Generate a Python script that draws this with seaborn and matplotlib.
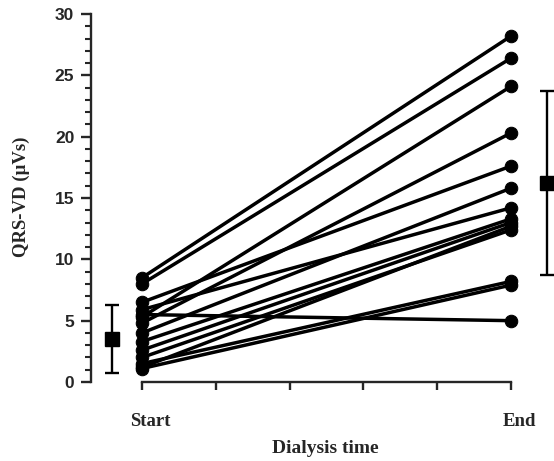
import numpy as np
import pandas as pd
import matplotlib
matplotlib.use("Agg")
import matplotlib.pyplot as plt
from matplotlib.ticker import MultipleLocator
from matplotlib.transforms import ScaledTranslation
import seaborn as sns

# ---- data ----
time_labels = ["Start", "End"]
start_vals = [8.5, 8.0, 5.3, 4.8, 6.5, 4.0, 5.9, 5.5, 3.3, 2.6, 1.2, 2.0, 1.5, 1.1]
end_vals = [28.2, 26.4, 24.1, 20.3, 17.6, 15.8, 14.2, 5.0, 13.3, 13.0, 12.7, 12.4, 8.2, 7.9]
mean_vals = [3.5, 16.2]
sd_vals = [2.8, 7.5]
mean_offsets = [-0.08, 0.097]

n = len(start_vals)
df = pd.DataFrame({
    "patient": list(range(n)) * 2,
    "t": [0] * n + [1] * n,
    "value": start_vals + end_vals,
})

sns.set_style("ticks")
W, H, DPI = 554, 461, 100
fig = plt.figure(figsize=(W / DPI, H / DPI), dpi=DPI)
ax_left, ax_right, ax_top, ax_bottom = 91, 554, 14, 382
ax = fig.add_axes([ax_left / W, 1 - ax_bottom / H, (ax_right - ax_left) / W, (ax_bottom - ax_top) / H])

x0_px, x1_px = 142, 511
scale = x1_px - x0_px
ax.set_xlim((ax_left - x0_px) / scale, (ax_right - x0_px) / scale)
ax.set_ylim(0, 30)

sns.lineplot(data=df, x="t", y="value", units="patient", estimator=None,
             color="black", linewidth=2.5, marker="o", markersize=9,
             markeredgecolor="black", markerfacecolor="black", ax=ax,
             legend=False)
for ln in ax.lines:
    ln.set_clip_on(False)

mx = [i + o for i, o in enumerate(mean_offsets)]
eb = ax.errorbar(mx, mean_vals, yerr=sd_vals, fmt="s", color="black",
                 markersize=10.5, capsize=4.8, elinewidth=1.7, capthick=1.7,
                 clip_on=False)
for art in list(eb.lines[1]) + list(eb.lines[2]):
    art.set_clip_on(False)

# spines
for s in ["top", "right"]:
    ax.spines[s].set_visible(False)
ax.spines["left"].set_linewidth(1.7)
ax.spines["bottom"].set_linewidth(1.7)
ax.spines["bottom"].set_bounds(0, 1)
ax.spines["left"].set_bounds(0, 30)

ax.set_yticks(np.arange(0, 31, 5))
ax.yaxis.set_minor_locator(MultipleLocator(1))
ax.tick_params(axis="y", which="major", length=7, width=1.7, pad=5,
               direction="out")
ax.tick_params(axis="y", which="minor", length=4, width=1.5, direction="out")
for lab in ax.get_yticklabels():
    lab.set_fontfamily("Liberation Sans")
    lab.set_fontweight("bold")
    lab.set_fontsize(12.5)

ax.set_xticks(np.linspace(0, 1, 6))
ax.set_xticklabels([time_labels[0], "", "", "", "", time_labels[1]],
                   fontfamily="Liberation Serif", fontweight="bold", fontsize=13.5)
ax.tick_params(axis="x", length=6, width=1.7, pad=16, direction="out")
shift = ScaledTranslation(6 / 72, 0, fig.dpi_scale_trans)
for lab in ax.get_xticklabels():
    lab.set_transform(lab.get_transform() + shift)

ax.set_xlabel("Dialysis time", fontfamily="Liberation Serif", fontweight="bold",
              fontsize=14)
ax.xaxis.set_label_coords((325 - ax_left) / (ax_right - ax_left),
                          (ax_bottom - 448) / (ax_bottom - ax_top))
ax.xaxis.label.set_verticalalignment("center")

ax.set_ylabel("QRS-VD (\u00b5Vs)", fontfamily="Liberation Serif", fontweight="bold",
              fontsize=13.5)
ax.yaxis.set_label_coords((21 - ax_left) / (ax_right - ax_left),
                          (ax_bottom - 196.5) / (ax_bottom - ax_top))
ax.yaxis.label.set_verticalalignment("center")

fig.savefig("out.png", dpi=DPI, facecolor="white")
